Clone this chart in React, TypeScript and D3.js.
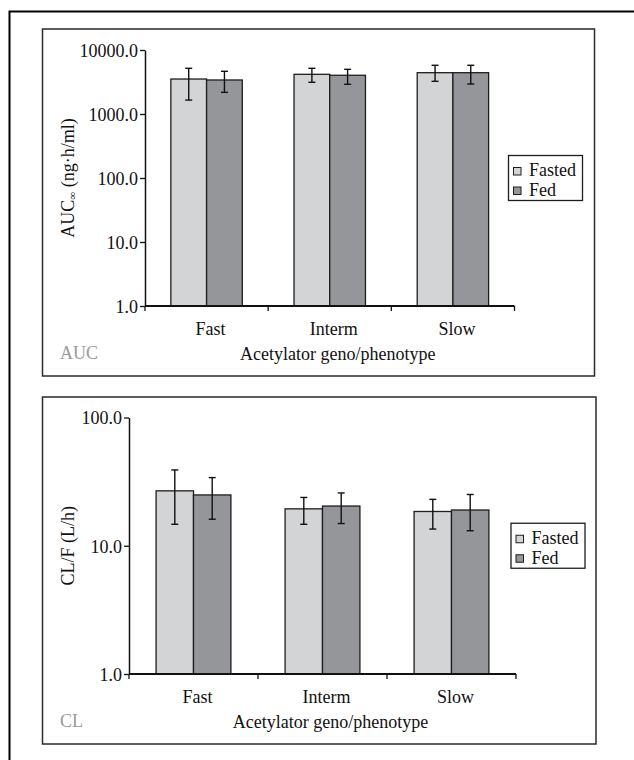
import React, { useEffect, useRef } from 'react';
import * as d3 from 'd3';

const categories = ['Fast', 'Interm', 'Slow'];
const seriesNames = ['Fasted', 'Fed'];
const seriesColors = ['#d3d4d6', '#95969a'];

// AUC∞ (ng·h/ml) - mean with error bar ends
const aucFasted = [3520, 4170, 4420];
const aucFastedLow = [1650, 3130, 3240];
const aucFastedHigh = [5180, 5180, 5770];
const aucFed = [3400, 4030, 4420];
const aucFedLow = [2180, 2910, 2940];
const aucFedHigh = [4650, 4990, 5770];
const aucTicks = [1, 10, 100, 1000, 10000];

// CL/F (L/h)
const clFasted = [26.8, 19.4, 18.5];
const clFastedLow = [14.7, 14.7, 13.5];
const clFastedHigh = [39, 23.8, 23.0];
const clFed = [24.9, 20.4, 19.0];
const clFedLow = [16.1, 14.9, 13.1];
const clFedHigh = [34, 25.8, 25.1];
const clTicks = [1, 10, 100];

const FONT = "'Liberation Serif', 'Times New Roman', serif";

const drawPanel = (svg, cfg) => {
    const g = svg.append('g');

    // panel frame
    g.append('rect')
        .attr('x', cfg.box[0]).attr('y', cfg.box[1])
        .attr('width', cfg.box[2]).attr('height', cfg.box[3])
        .attr('fill', 'none').attr('stroke', '#2a2a2a').attr('stroke-width', 1.5);

    const y = d3.scaleLog().domain([1, cfg.ticks[cfg.ticks.length - 1]]).range([cfg.bottom, cfg.top]);
    const x = d3.scaleBand().domain(categories).range([cfg.left, cfg.right]);
    const bw = x.bandwidth();
    const xs = d3.scaleBand().domain(seriesNames).range([bw * 0.21, bw * 0.79]);

    // bars
    const rows = [];
    cfg.series.forEach((s, si) => {
        categories.forEach((c, ci) => {
            rows.push({ c, name: seriesNames[si], color: seriesColors[si], v: s.mean[ci], lo: s.low[ci], hi: s.high[ci] });
        });
    });

    g.append('g').selectAll('rect')
        .data(rows)
        .join('rect')
        .attr('x', d => x(d.c) + xs(d.name))
        .attr('y', d => y(d.v))
        .attr('width', xs.bandwidth())
        .attr('height', d => cfg.bottom - y(d.v))
        .attr('fill', d => d.color)
        .attr('stroke', '#1e1e1e')
        .attr('stroke-width', 1.3);

    // error bars
    const eb = g.append('g').attr('stroke', '#111').attr('stroke-width', 1.4);
    rows.forEach(d => {
        const cx = x(d.c) + xs(d.name) + xs.bandwidth() / 2;
        eb.append('line').attr('x1', cx).attr('x2', cx).attr('y1', y(d.hi)).attr('y2', y(d.lo));
        eb.append('line').attr('x1', cx - 3.5).attr('x2', cx + 3.5).attr('y1', y(d.hi)).attr('y2', y(d.hi));
        eb.append('line').attr('x1', cx - 3.5).attr('x2', cx + 3.5).attr('y1', y(d.lo)).attr('y2', y(d.lo));
    });

    // y axis
    const yAxis = g.append('g')
        .attr('transform', `translate(${cfg.left},0)`)
        .call(d3.axisLeft(y).tickValues(cfg.ticks).tickFormat(d3.format('.1f')).tickSize(5).tickSizeOuter(0).tickPadding(2));
    yAxis.select('.domain').attr('stroke', '#111').attr('stroke-width', 1.5);
    yAxis.selectAll('.tick line').attr('stroke', '#111').attr('stroke-width', 1.3);
    yAxis.selectAll('.tick text')
        .attr('font-family', FONT).attr('font-size', 18).attr('fill', '#111').attr('dy', '0.36em');

    // x axis
    const xa = g.append('g').attr('stroke', '#111');
    xa.append('line').attr('x1', cfg.left).attr('x2', cfg.right)
        .attr('y1', cfg.bottom).attr('y2', cfg.bottom).attr('stroke-width', 1.8);
    [...categories.map(c => x(c)), cfg.right].forEach(t => {
        xa.append('line').attr('x1', t).attr('x2', t)
            .attr('y1', cfg.bottom).attr('y2', cfg.bottom + 5).attr('stroke-width', 1.3);
    });

    g.append('g').selectAll('text')
        .data(categories)
        .join('text')
        .attr('x', c => x(c) + bw / 2 + 4)
        .attr('y', cfg.bottom + 29)
        .attr('text-anchor', 'middle')
        .attr('font-family', FONT).attr('font-size', 18).attr('fill', '#111')
        .text(c => c);

    g.append('text')
        .attr('x', (cfg.left + cfg.right) / 2 + 8)
        .attr('y', cfg.bottom + 54)
        .attr('text-anchor', 'middle')
        .attr('font-family', FONT).attr('font-size', 18).attr('fill', '#111')
        .text('Acetylator geno/phenotype');

    // panel tag
    g.append('text')
        .attr('x', 60).attr('y', cfg.bottom + 53)
        .attr('font-family', FONT).attr('font-size', 18).attr('fill', '#9a9a9a')
        .text(cfg.tag);

    // y title
    const yt = g.append('text')
        .attr('transform', `translate(74,${(cfg.top + cfg.bottom) / 2}) rotate(-90)`)
        .attr('text-anchor', 'middle')
        .attr('font-family', FONT).attr('font-size', 18).attr('fill', '#111');
    cfg.yTitle.forEach(p => {
        const t = yt.append('tspan').text(p.text);
        if (p.sub) t.attr('font-size', 11).attr('dy', 2);
        if (p.after) t.attr('dy', -2);
    });

    // legend
    const lx = cfg.legendX;
    const ly = (cfg.top + cfg.bottom) / 2 - 22.5;
    const lg = g.append('g');
    lg.append('rect').attr('x', lx).attr('y', ly).attr('width', 74).attr('height', 45)
        .attr('fill', '#fff').attr('stroke', '#1e1e1e').attr('stroke-width', 1.3);
    seriesNames.forEach((s, i) => {
        lg.append('rect')
            .attr('x', lx + 5).attr('y', ly + 12 + i * 19.5)
            .attr('width', 7.5).attr('height', 7.5)
            .attr('fill', seriesColors[i]).attr('stroke', '#1e1e1e').attr('stroke-width', 1);
        lg.append('text')
            .attr('x', lx + 20.5).attr('y', ly + 20.5 + i * 20)
            .attr('font-family', FONT).attr('font-size', 18).attr('fill', '#111')
            .text(s);
    });
};

const App = () => {
    const svgRef = useRef(null);

    useEffect(() => {
        const svg = d3.select(svgRef.current);
        svg.selectAll('*').remove();

        // outer figure border (top and left only)
        svg.append('path')
            .attr('d', 'M9.5,760 V11.5 H634')
            .attr('fill', 'none').attr('stroke', '#000').attr('stroke-width', 2);

        drawPanel(svg, {
            box: [42.5, 29, 552, 347],
            left: 145, right: 514.5, top: 50, bottom: 306,
            ticks: aucTicks,
            tag: 'AUC',
            yTitle: [{ text: 'AUC' }, { text: '∞', sub: true }, { text: ' (ng·h/ml)', after: true }],
            legendX: 508.5,
            series: [
                { mean: aucFasted, low: aucFastedLow, high: aucFastedHigh },
                { mean: aucFed, low: aucFedLow, high: aucFedHigh },
            ],
        });

        drawPanel(svg, {
            box: [42.5, 397, 553.5, 347],
            left: 129, right: 516, top: 417.5, bottom: 674,
            ticks: clTicks,
            tag: 'CL',
            yTitle: [{ text: 'CL/F (L/h)' }],
            legendX: 511,
            series: [
                { mean: clFasted, low: clFastedLow, high: clFastedHigh },
                { mean: clFed, low: clFedLow, high: clFedHigh },
            ],
        });
    }, []);

    return (
        <svg ref={svgRef} width={634} height={760}
            style={{ position: 'absolute', left: 0, top: 0, background: '#fff' }} />
    );
};

export default App;
